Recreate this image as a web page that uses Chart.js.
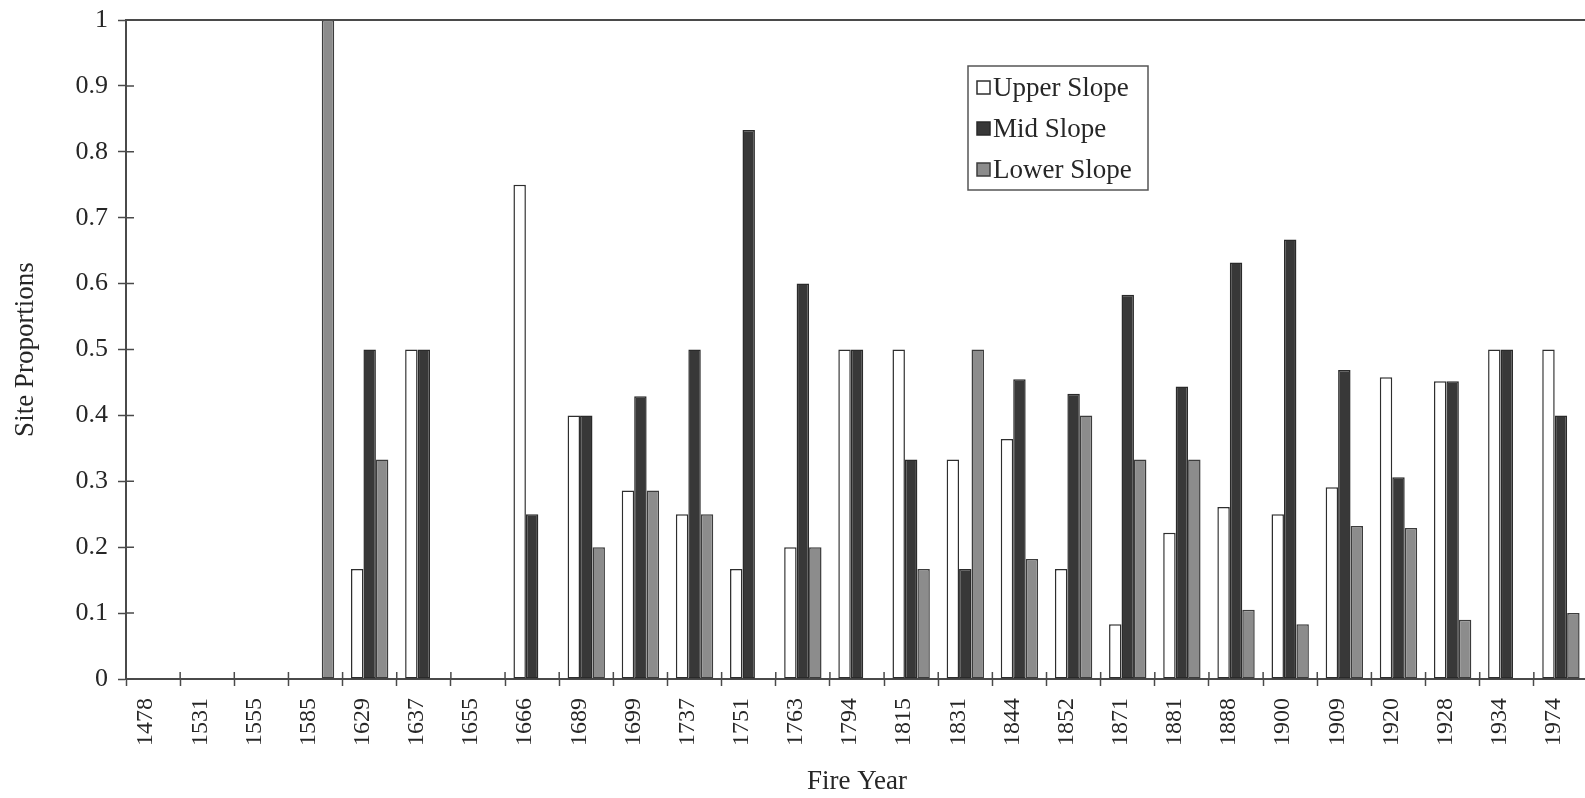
<!DOCTYPE html>
<html>
<head>
<meta charset="utf-8">
<title>Site Proportions by Fire Year</title>
<script src="https://cdn.jsdelivr.net/npm/chart.js@4.4.1/dist/chart.umd.min.js"></script>
<style>
  html, body { margin: 0; padding: 0; background: #fff; overflow: hidden; }
  .wrap { position: relative; width: 1588px; height: 798px; }
</style>
</head>
<body>
<div class="wrap"><canvas id="chartSlope"></canvas></div>
<script>
/* ---------- data ---------- */
const fireYears = ['1478', '1531', '1555', '1585', '1629', '1637', '1655', '1666', '1689', '1699',
  '1737', '1751', '1763', '1794', '1815', '1831', '1844', '1852', '1871', '1881',
  '1888', '1900', '1909', '1920', '1928', '1934', '1974'];
const upperSlope = [0, 0, 0, 0, 0.167, 0.5, 0, 0.75, 0.4, 0.286,
  0.25, 0.167, 0.2, 0.5, 0.5, 0.333, 0.364, 0.167, 0.083, 0.222,
  0.261, 0.25, 0.291, 0.458, 0.452, 0.5, 0.5];
const midSlope = [0, 0, 0, 0, 0.5, 0.5, 0, 0.25, 0.4, 0.429,
  0.5, 0.833, 0.6, 0.5, 0.333, 0.167, 0.455, 0.433, 0.583, 0.444,
  0.632, 0.667, 0.469, 0.306, 0.452, 0.5, 0.4];
const lowerSlope = [0, 0, 0, 1, 0.333, 0, 0, 0, 0.2, 0.286,
  0.25, 0, 0.2, 0, 0.167, 0.5, 0.182, 0.4, 0.333, 0.333,
  0.105, 0.083, 0.232, 0.229, 0.09, 0, 0.1];
const yTickLabels = ['0', '0.1', '0.2', '0.3', '0.4', '0.5', '0.6', '0.7', '0.8', '0.9', '1'];

const FONT = '"Liberation Serif", "Times New Roman", serif';
const INK = '#262626';
const AXIS = '#4a4a4a';

// zero rows are not drawn at all (no flat border stub on the axis)
const skipZero = arr => arr.map(v => (v === 0 ? null : v));

// inner half of the "cross" tick marks, top frame line and the boxed legend
const framePlugin = {
  id: 'frame',
  afterDraw(chart, args, opts) {
    const { ctx, chartArea: a, scales } = chart;
    ctx.save();
    ctx.strokeStyle = AXIS;
    ctx.lineWidth = 2;
    ctx.beginPath();
    ctx.moveTo(a.left, a.top); ctx.lineTo(chart.width, a.top);
    ctx.stroke();

    ctx.lineWidth = 1.5;
    ctx.beginPath();
    scales.y.ticks.forEach((t, i) => {
      const py = scales.y.getPixelForTick(i);
      ctx.moveTo(a.left, py); ctx.lineTo(a.left + 8, py);
    });
    for (let i = 0; i <= fireYears.length; i++) {
      const px = scales.x.getPixelForValue(i - 0.5);
      ctx.moveTo(px, a.bottom); ctx.lineTo(px, a.bottom - 7);
    }
    ctx.stroke();

    // legend
    const L = opts.box;
    ctx.fillStyle = '#fff';
    ctx.fillRect(L.x, L.y, L.w, L.h);
    ctx.strokeStyle = '#555';
    ctx.lineWidth = 1.5;
    ctx.strokeRect(L.x, L.y, L.w, L.h);
    ctx.font = opts.font;
    ctx.textBaseline = 'middle';
    chart.data.datasets.forEach((ds, i) => {
      const cy = L.y + L.first + i * L.step;
      ctx.fillStyle = ds.backgroundColor;
      ctx.fillRect(L.x + 9, cy - 7, 13, 13);
      ctx.strokeStyle = ds.borderColor;
      ctx.lineWidth = 1.5;
      ctx.strokeRect(L.x + 9, cy - 7, 13, 13);
      ctx.fillStyle = INK;
      ctx.fillText(ds.label, L.x + 25, cy + 1);
    });
    ctx.restore();
  }
};

const ctx = document.getElementById('chartSlope').getContext('2d');
new Chart(ctx, {
  type: 'bar',
  data: {
    labels: fireYears,
    datasets: [
      { label: 'Upper Slope', data: skipZero(upperSlope), backgroundColor: '#ffffff', borderColor: '#2e2e2e' },
      { label: 'Mid Slope', data: skipZero(midSlope), backgroundColor: '#383838', borderColor: '#2a2a2a' },
      { label: 'Lower Slope', data: skipZero(lowerSlope), backgroundColor: '#8c8c8c', borderColor: '#3c3c3c' }
    ]
  },
  options: {
    responsive: true, maintainAspectRatio: false, animation: false,
    layout: { padding: { top: 20, right: 0, left: 0, bottom: 0 } },
    datasets: {
      bar: { categoryPercentage: 0.69, barPercentage: 1.0, borderWidth: 1.5, borderSkipped: false }
    },
    plugins: {
      legend: { display: false },
      tooltip: { enabled: false },
      frame: {
        box: { x: 968, y: 66, w: 180, h: 124, first: 22, step: 41 },
        font: '27px ' + FONT
      }
    },
    scales: {
      x: {
        grid: { display: true, drawOnChartArea: false, tickLength: 7, tickColor: AXIS, tickWidth: 1.5 },
        border: { display: true, color: AXIS, width: 2 },
        ticks: { minRotation: 90, maxRotation: 90, autoSkip: false, padding: 12, labelOffset: -7,
          color: INK, font: { family: FONT, size: 24 } },
        title: { display: true, text: 'Fire Year', color: INK, font: { family: FONT, size: 27 },
          padding: { top: 0, bottom: 0 } },
        afterFit: s => { s.height = 119; s.paddingLeft = 0; s.paddingRight = 0; }
      },
      y: {
        min: 0, max: 1,
        grid: { display: true, drawOnChartArea: false, tickLength: 8, tickColor: AXIS, tickWidth: 1.5 },
        border: { display: true, color: AXIS, width: 2 },
        ticks: { stepSize: 0.1, padding: 10, color: INK, font: { family: FONT, size: 26 },
          callback: (v, i) => yTickLabels[i] },
        title: { display: true, text: 'Site Proportions', color: INK, font: { family: FONT, size: 27 },
          padding: { top: 10, bottom: 0 } },
        afterFit: s => { s.width = 126; s.paddingTop = 0; s.paddingBottom = 0; }
      }
    }
  },
  plugins: [framePlugin]
});
</script>
</body>
</html>
